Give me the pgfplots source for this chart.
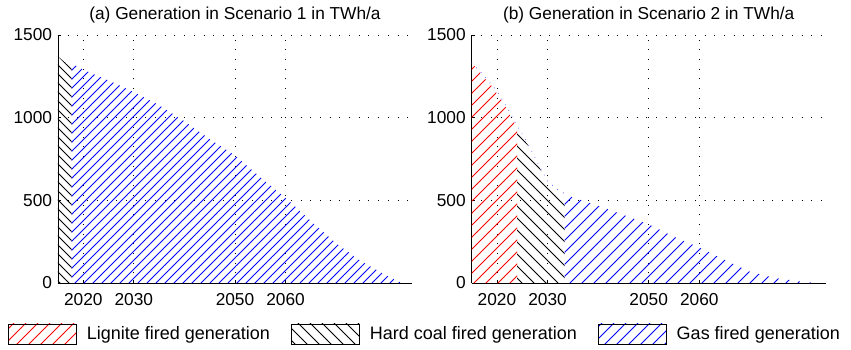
\documentclass[border=0pt]{standalone}
\usepackage{fontspec}
\setmainfont{Liberation Sans}
\usepackage{pgfplots}
\pgfplotsset{compat=1.18}
\usetikzlibrary{patterns.meta}

\pgfplotsset{
  genaxis/.style={
    scale only axis, width=354pt, height=248pt,
    xmin=2015, xmax=2085, ymin=0, ymax=1500,
    axis lines*=left,
    axis line style={black, line width=0.8pt},
    xtick={2020,2030,2050,2060},
    ytick={0,500,1000,1500},
    tick align=inside, major tick length=3.5pt,
    tick style={black, line width=0.8pt},
    grid=major,
    grid style={black, line width=0.9pt, dash pattern=on 0.9pt off 8.8pt},
    /pgf/number format/assume math mode=true,
    /pgf/number format/1000 sep={},
    xticklabel style={yshift=-4pt},
  },
  hatchA/.style={draw=none, pattern={Lines[angle=45, distance=6.364pt, line width=0.9pt]}},
  hatchB/.style={draw=none, pattern={Lines[angle=-45, distance=6.364pt, line width=0.9pt]}},
  hatchC/.style={draw=none, pattern={Lines[angle=45, distance=8.485pt, line width=0.9pt]}},
  hatchD/.style={draw=none, pattern={Lines[angle=-45, distance=8.485pt, line width=0.9pt]}},
}

\begin{document}
\fontsize{17.3}{20.8}\selectfont
\begin{tikzpicture}
% outer frame of the figure
\path (-58pt,-66pt) rectangle (793pt,283pt);

% Scenario 1
\begin{axis}[genaxis, name=left, at={(0pt,0pt)}, anchor=south west,
  title={(a) Generation in Scenario 1 in TWh/a}]
  \addplot[hatchB, pattern color=black] coordinates {
    (2015,1370) (2017.7,1300)
  } \closedcycle;
  \addplot[hatchA, pattern color=blue] coordinates {
    (2017.7,1328) (2020,1290) (2025,1225) (2030,1155) (2035,1075)
    (2040,978) (2045,870) (2050,772) (2055,640) (2060,515)
    (2065,375) (2070,240) (2075,130) (2080,45) (2083,0)
  } \closedcycle;
\end{axis}

% Scenario 2
\begin{axis}[genaxis, name=right, at={(413.7pt,0pt)}, anchor=south west,
  title={(b) Generation in Scenario 2 in TWh/a},
  legend columns=3,
  legend cell align=left,
  legend style={at={(-0.132,-0.2056)}, anchor=center, draw=none,
    font=\fontsize{18}{21}\selectfont,
    /tikz/every odd column/.append style={column sep=8pt},
    /tikz/every even column/.append style={column sep=19pt}},
  legend image code/.code={
    \draw[#1, draw=black, line width=0.8pt] (0pt,-10pt) rectangle (68pt,10pt);
  }]
  \addplot[hatchC, pattern color=red] coordinates {
    (2015,1325) (2016,1300) (2017.5,1240) (2019,1190) (2020,1145)
    (2021.5,1075) (2022.5,1020) (2024,940)
  } \closedcycle;
  \addlegendentry{Lignite fired generation}
  \addplot[hatchD, pattern color=black] coordinates {
    (2024,915) (2026,840) (2028,720) (2030,610) (2032,560) (2033.4,530)
  } \closedcycle;
  \addlegendentry{Hard coal fired generation}
  \addplot[hatchC, pattern color=blue] coordinates {
    (2033.4,535) (2036,508) (2040,468) (2045,412) (2050,355)
    (2055,280) (2060,215) (2065,140) (2070,68) (2075,30)
    (2080,9) (2083,0)
  } \closedcycle;
  \addlegendentry{Gas fired generation}
  % upper edge of the stacked gas band while it is still empty
  \addplot[forget plot, blue!70, line width=0.7pt, dash pattern=on 0.7pt off 6pt] coordinates {
    (2015,1332) (2017.5,1252) (2020,1160) (2022.5,1035) (2024,950)
    (2026,850) (2028,730) (2030,615) (2032,565) (2033.4,540)
  };
\end{axis}
\end{tikzpicture}
\end{document}
